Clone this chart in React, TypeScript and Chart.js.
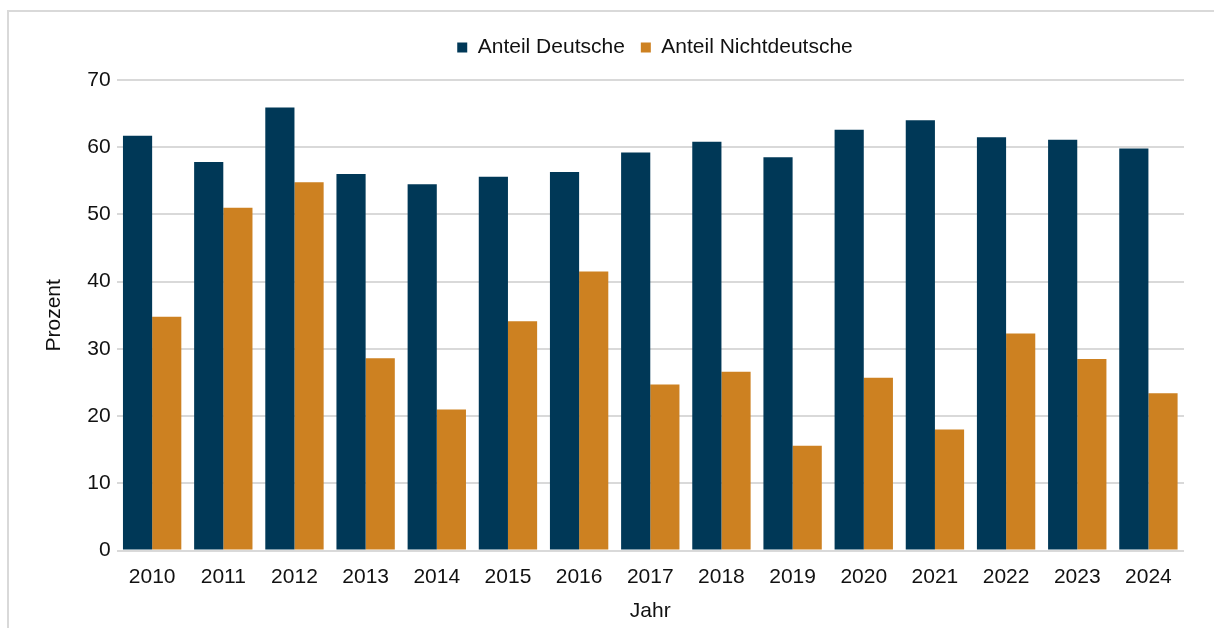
import React, { useEffect, useRef } from "react";
import { Chart, registerables } from "chart.js";

Chart.register(...registerables);

const years = ["2010", "2011", "2012", "2013", "2014", "2015", "2016", "2017", "2018", "2019", "2020", "2021", "2022", "2023", "2024"];
const anteilDeutsche = [61.7, 57.8, 65.9, 56.0, 54.5, 55.6, 56.3, 59.2, 60.8, 58.5, 62.6, 64.0, 61.5, 61.1, 59.8];
const anteilNichtdeutsche = [34.8, 51.0, 54.8, 28.6, 21.0, 34.1, 41.5, 24.7, 26.6, 15.6, 25.7, 18.0, 32.3, 28.5, 23.4];
const yTicks = [0, 10, 20, 30, 40, 50, 60, 70];

const FONT = "'Liberation Sans', Arial, sans-serif";
const TEXT = "#111111";
const FS = 21;

const legendMargin = {
  id: "legendMargin",
  beforeInit(chart: any) {
    const legend = chart.legend;
    if (!legend) return;
    const orig = legend.fit;
    legend.fit = function () {
      orig.call(this);
      this.height += 12;
    };
  },
  afterLayout(chart: any) {
    const legend = chart.legend;
    if (!legend) return;
    legend.left += 42;
    legend.right += 42;
  },
};

export default function App() {
  const ref = useRef<HTMLCanvasElement | null>(null);

  useEffect(() => {
    document.body.style.overflow = "hidden";
    const canvas = ref.current;
    if (!canvas) return;
    const chart = new Chart(canvas, {
      type: "bar",
      data: {
        labels: years,
        datasets: [
          {
            label: "Anteil Deutsche",
            data: anteilDeutsche,
            backgroundColor: "#003857",
            borderWidth: 0,
            categoryPercentage: 0.82,
            barPercentage: 1.0,
          },
          {
            label: "Anteil Nichtdeutsche",
            data: anteilNichtdeutsche,
            backgroundColor: "#CD8121",
            borderWidth: 0,
            categoryPercentage: 0.82,
            barPercentage: 1.0,
          },
        ],
      },
      plugins: [legendMargin],
      options: {
        animation: false,
        responsive: false,
        maintainAspectRatio: false,
        layout: { padding: { top: 21, left: 42, right: 30, bottom: 4 } },
        plugins: {
          tooltip: { enabled: false },
          legend: {
            position: "top",
            labels: {
              font: { family: FONT, size: FS },
              color: TEXT,
              boxWidth: 10,
              boxHeight: 10,
              padding: 16,
            },
          },
        },
        scales: {
          x: {
            grid: { display: false, drawTicks: false },
            border: { display: false },
            ticks: { font: { family: FONT, size: FS }, color: TEXT, padding: 14 },
            title: {
              display: true,
              text: "Jahr",
              font: { family: FONT, size: FS },
              color: TEXT,
              padding: { top: -5, bottom: 0 },
            },
          },
          y: {
            min: 0,
            max: 70,
            afterBuildTicks: (axis: any) => {
              axis.ticks = yTicks.map((v) => ({ value: v }));
            },
            grid: { color: "#d9d9d9", lineWidth: 2, drawTicks: false },
            border: { display: false },
            ticks: { font: { family: FONT, size: FS }, color: TEXT, padding: 6 },
            title: {
              display: true,
              text: "Prozent",
              font: { family: FONT, size: FS },
              color: TEXT,
              padding: { top: 0, bottom: 14 },
            },
          },
        },
      },
    });
    return () => chart.destroy();
  }, []);

  return (
    <div>
      <div
        style={{
          position: "fixed",
          left: 7,
          top: 10,
          width: 1400,
          height: 800,
          border: "2px solid #d9d9d9",
          boxSizing: "border-box",
        }}
      />
      <canvas
        ref={ref}
        width={1214}
        height={628}
        style={{ position: "fixed", left: 0, top: 0, width: 1214, height: 628 }}
      />
    </div>
  );
}
